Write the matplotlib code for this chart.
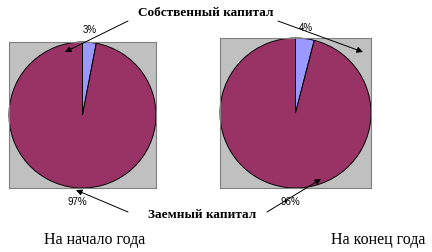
import matplotlib.pyplot as plt

# доли капитала, %
own_share = [3, 4]
debt_share = [97, 96]
periods = ['На начало года', 'На конец года']

c_debt = '#993366'
c_own = '#9999FF'
c_bg = '#C0C0C0'

W, H = 432, 253
fig = plt.figure(figsize=(W / 100, H / 100), dpi=100)
fig.patch.set_facecolor('white')


def px_axes(x0, y0, x1, y1):
    # pixel box (top-left origin) -> figure axes
    return fig.add_axes([x0 / W, 1 - y1 / H, (x1 - x0) / W, (y1 - y0) / H])


boxes = [(9, 43, 156, 189), (220, 39, 371, 189)]
for i, b in enumerate(boxes):
    ax = px_axes(*b)
    ax.pie([own_share[i], debt_share[i]], colors=[c_own, c_debt],
           startangle=90, counterclock=False, frame=True,
           wedgeprops=dict(edgecolor='black', linewidth=0.7))
    ax.set_facecolor(c_bg)
    ax.set_frame_on(True)
    ax.patch.set_visible(True)
    ax.set_aspect('auto')
    ax.set_xlim(-1.0, 1.0)
    ax.set_ylim(-1.0, 1.0)
    ax.set_xticks([])
    ax.set_yticks([])
    for s in ax.spines.values():
        s.set_visible(True)
        s.set_color('#808080')
        s.set_linewidth(0.8)

# overlay in pixel coordinates
ov = fig.add_axes([0, 0, 1, 1])
ov.set_xlim(0, W)
ov.set_ylim(H, 0)
ov.axis('off')

sans = 'Liberation Sans'
serif = 'Liberation Serif'

ov.text(90, 30, f'{own_share[0]}%', fontsize=7, family=sans, ha='center', va='center')
ov.text(77, 202, f'{debt_share[0]}%', fontsize=7, family=sans, ha='center', va='center')
ov.text(306, 28, f'{own_share[1]}%', fontsize=7, family=sans, ha='center', va='center')
ov.text(290, 202, f'{debt_share[1]}%', fontsize=7, family=sans, ha='center', va='center')

ov.text(206, 13, 'Собственный капитал', fontsize=9.5, family=serif, weight='bold',
        ha='center', va='center')
ov.text(202, 215, 'Заемный капитал', fontsize=9.5, family=serif, weight='bold',
        ha='center', va='center')

ap = dict(arrowstyle='-|>', color='black', lw=0.7, mutation_scale=9, shrinkA=0, shrinkB=0)
ov.annotate('', xy=(65, 53), xytext=(128, 22), arrowprops=ap)
ov.annotate('', xy=(363, 53), xytext=(278, 22), arrowprops=ap)
ov.annotate('', xy=(76, 191), xytext=(128, 213), arrowprops=ap)
ov.annotate('', xy=(321, 180), xytext=(267, 213), arrowprops=ap)

ov.text(95, 240, periods[0], fontsize=11.5, family=serif, ha='center', va='center')
ov.text(378, 240, periods[1], fontsize=11.5, family=serif, ha='center', va='center')

fig.savefig('out.png', dpi=100)
